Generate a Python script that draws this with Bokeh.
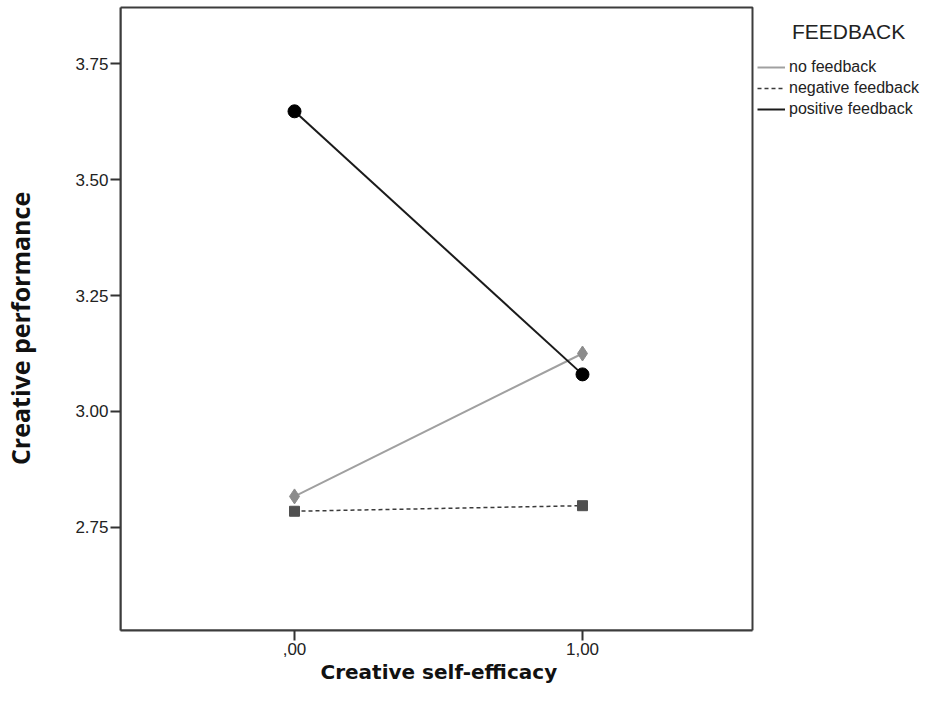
from bokeh.plotting import figure
from bokeh.models import Legend, LegendItem, Range1d, FixedTicker, BoxAnnotation, Title
from bokeh.embed import file_html
from bokeh.resources import INLINE

# Data
x_vals = [0.0, 1.0]
x_tick_labels = {0: ",00", 1: "1,00"}
y_ticks = [2.75, 3.00, 3.25, 3.50, 3.75]
no_feedback = [2.817, 3.125]
negative_feedback = [2.785, 2.797]
positive_feedback = [3.647, 3.080]
series_names = ["no feedback", "negative feedback", "positive feedback"]
legend_title = "FEEDBACK"
x_title = "Creative self-efficacy"
y_title = "Creative performance"

# plotting box (data extent of the visible frame)
x_lo, x_hi = -0.6042, 1.5903
y_lo, y_hi = 2.528, 3.8707

p = figure(width=922, height=689, output_backend="svg", toolbar_location=None,
           x_range=Range1d(x_lo, 2.1806), y_range=Range1d(y_lo, 3.8858),
           min_border_left=120, min_border_right=0, min_border_top=0, min_border_bottom=59)
p.xgrid.visible = False
p.ygrid.visible = False
p.outline_line_color = None
p.background_fill_color = "white"
p.border_fill_color = "white"

box = BoxAnnotation(left=x_lo, right=x_hi, bottom=y_lo, top=y_hi,
                    fill_alpha=0, line_color="#3c3c3c", line_alpha=1.0, line_width=2)
p.add_layout(box)

for ax in (p.xaxis[0], p.yaxis[0]):
    ax.axis_line_color = "#3c3c3c"
    ax.axis_line_width = 2
    ax.major_tick_line_color = "#333333"
    ax.major_tick_line_width = 2
    ax.major_tick_out = 10
    ax.major_tick_in = 0
    ax.minor_tick_line_color = None
    ax.major_label_text_font = "Liberation Sans"
    ax.major_label_text_font_size = "17px"
    ax.major_label_text_color = "#222222"
    ax.major_label_standoff = 2

p.xaxis.ticker = FixedTicker(ticks=[0, 1])
p.xaxis.major_label_overrides = x_tick_labels
p.xaxis.bounds = (x_lo, x_hi)
p.yaxis.ticker = FixedTicker(ticks=y_ticks)
p.yaxis.major_label_overrides = {t: f"{t:.2f}" for t in y_ticks}
p.yaxis.bounds = (y_lo, y_hi)

p.yaxis.axis_label = y_title + "\u00a0" * 4
p.yaxis.axis_label_text_font = "Open Sans"
p.yaxis.axis_label_text_font_style = "bold"
p.yaxis.axis_label_text_font_size = "25px"
p.yaxis.axis_label_text_color = "#111111"
p.yaxis.axis_label_standoff = 35

xt = Title(text=x_title, align="left", offset=200, standoff=0,
           text_font="DejaVu Sans", text_font_style="bold", text_font_size="20px",
           text_color="#111111")
p.add_layout(xt, "below")

r_no = p.line(x_vals, no_feedback, line_color="#a0a0a0", line_width=2)
p.scatter(x_vals, no_feedback, marker="diamond", size=15, fill_color="#8c8c8c", line_color="#8c8c8c")
r_neg = p.line(x_vals, negative_feedback, line_color="#3a3a3a", line_width=1.5, line_dash="4 3")
p.scatter(x_vals, negative_feedback, marker="square", size=10, fill_color="#505050", line_color="#505050")
r_pos = p.line(x_vals, positive_feedback, line_color="#1a1a1a", line_width=2)
p.scatter(x_vals, positive_feedback, marker="circle", size=13, fill_color="black", line_color="black")

legend = Legend(items=[LegendItem(label=series_names[0], renderers=[r_no]),
                       LegendItem(label=series_names[1], renderers=[r_neg]),
                       LegendItem(label=series_names[2], renderers=[r_pos])],
                location=(637, 511), orientation="vertical",
                title="\u00a0" * 6 + legend_title, title_text_font="Liberation Sans",
                title_text_font_size="21px", title_text_font_style="normal",
                title_text_color="#222222", title_standoff=13,
                border_line_color=None, background_fill_alpha=0,
                padding=0, margin=0, spacing=1, glyph_width=28, glyph_height=20,
                label_height=20, label_standoff=4,
                label_text_font="Liberation Sans", label_text_font_size="16px",
                label_text_color="#222222")
p.add_layout(legend, "center")

open("out.html", "w").write(file_html(p, INLINE))
